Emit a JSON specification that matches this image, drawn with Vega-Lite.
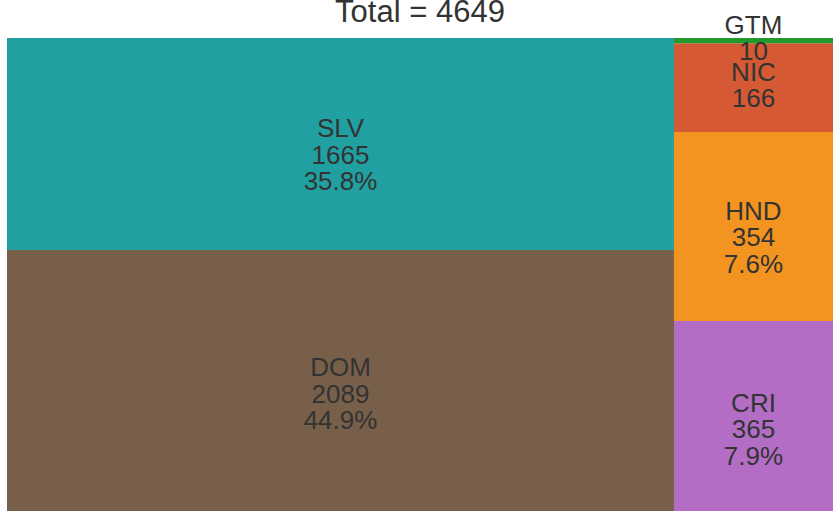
{
  "$schema": "https://vega.github.io/schema/vega-lite/v6.json",
  "width": 826,
  "height": 478,
  "autosize": {"type": "none"},
  "padding": {"left": 7, "top": 38, "right": 0, "bottom": 0},
  "background": "white",
  "config": {"view": {"stroke": null}},
  "data": {
    "values": [
      {"code": "DOM", "value": 2089, "column": "A", "label": "DOM\n2089\n44.9%"},
      {"code": "SLV", "value": 1665, "column": "A", "label": "SLV\n1665\n35.8%"},
      {"code": "CRI", "value": 365, "column": "B", "label": "CRI\n365\n7.9%"},
      {"code": "HND", "value": 354, "column": "B", "label": "HND\n354\n7.6%"},
      {"code": "NIC", "value": 166, "column": "B", "label": "NIC\n166\n"},
      {"code": "GTM", "value": 10, "column": "B", "label": "GTM\n10\n"}
    ]
  },
  "transform": [
    {"stack": "value", "groupby": [], "sort": [{"field": "column", "order": "ascending"}, {"field": "value", "order": "descending"}], "as": ["s0", "s1"]},
    {"joinaggregate": [{"op": "min", "field": "s0", "as": "cx0"}, {"op": "max", "field": "s1", "as": "cx1"}], "groupby": ["column"]},
    {"stack": "value", "groupby": ["column"], "sort": [{"field": "value", "order": "descending"}], "offset": "normalize", "as": ["y0", "y1"]}
  ],
  "layer": [
    {
      "mark": {"type": "rect"},
      "encoding": {
        "x": {"field": "cx0", "type": "quantitative", "scale": {"domain": [0, 4649], "nice": false, "zero": false}, "axis": null},
        "x2": {"field": "cx1"},
        "y": {"field": "y0", "type": "quantitative", "scale": {"domain": [0, 1], "nice": false}, "axis": null},
        "y2": {"field": "y1"},
        "color": {
          "field": "code",
          "type": "nominal",
          "scale": {
            "domain": ["DOM", "SLV", "CRI", "HND", "NIC", "GTM"],
            "range": ["#785f4a", "#20a0a0", "#b36dc5", "#f39420", "#d55a34", "#22992a"]
          },
          "legend": null
        }
      }
    },
    {
      "transform": [
        {"calculate": "(datum.cx0 + datum.cx1) / 2", "as": "xm"},
        {"calculate": "(datum.y0 + datum.y1) / 2", "as": "ym"}
      ],
      "mark": {
        "type": "text",
        "fontSize": 26,
        "font": "Liberation Sans",
        "color": "#333333",
        "lineBreak": "\n",
        "lineHeight": 26.5,
        "align": "center",
        "baseline": "top",
        "dy": -28
      },
      "encoding": {
        "x": {"field": "xm", "type": "quantitative"},
        "y": {"field": "ym", "type": "quantitative"},
        "text": {"field": "label", "type": "nominal"}
      }
    },
    {
      "transform": [
        {"aggregate": [{"op": "sum", "field": "value", "as": "total"}]},
        {"calculate": "datum.total / 2", "as": "mid"},
        {"calculate": "'Total = ' + datum.total", "as": "ttl"}
      ],
      "mark": {
        "type": "text",
        "fontSize": 31,
        "font": "Liberation Sans",
        "color": "#333333",
        "align": "center",
        "baseline": "alphabetic",
        "dy": -16
      },
      "encoding": {
        "x": {"field": "mid", "type": "quantitative"},
        "y": {"datum": 1, "type": "quantitative"},
        "text": {"field": "ttl", "type": "nominal"}
      }
    }
  ]
}
